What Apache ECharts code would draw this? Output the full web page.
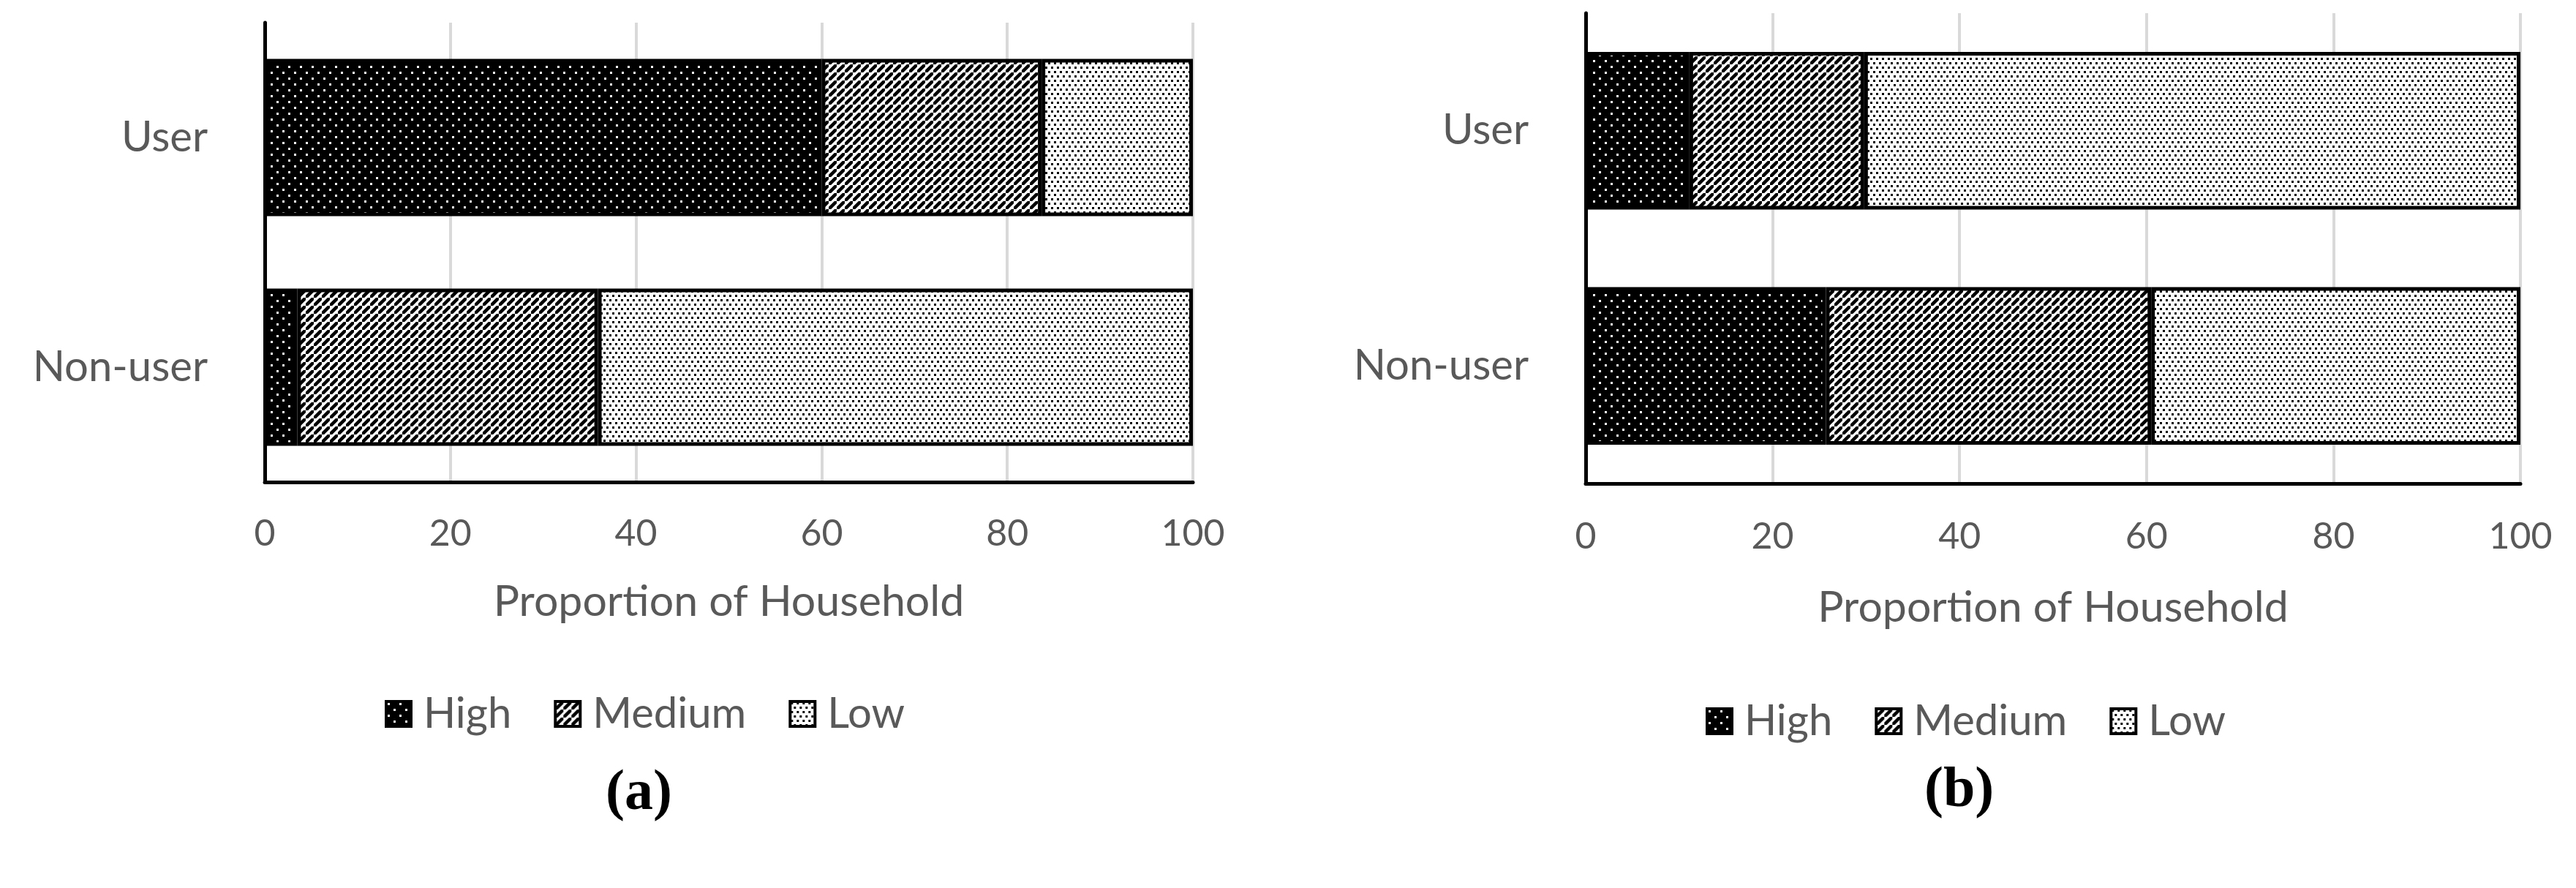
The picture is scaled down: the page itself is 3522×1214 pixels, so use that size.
<!DOCTYPE html>
<html>
<head>
<meta charset="utf-8">
<script src="https://cdn.jsdelivr.net/npm/echarts@6/dist/echarts.min.js"></script>
<style>
  html, body { margin: 0; padding: 0; background: #ffffff; }
  #chart { width: 3522px; height: 1214px; }
</style>
</head>
<body>
<div id="chart"></div>
<script>
// ---------------- DATA ----------------
const categories = ['Non-user', 'User'];          // bottom -> top
const seriesNames = ['High', 'Medium', 'Low'];
const axisTitle = 'Proportion of Household';

// Panel (a)
const aHigh   = [3.5, 60.0];
const aMedium = [32.4, 23.7];
const aLow    = [64.1, 16.3];

// Panel (b)
const bHigh   = [25.7, 11.1];
const bMedium = [34.8, 18.7];
const bLow    = [39.5, 70.2];

const panelLabels = ['a', 'b'];

// ---------------- PATTERNS ----------------
function makeCanvas(w, h) {
  const c = document.createElement('canvas');
  c.width = w; c.height = h;
  return c;
}
function highPattern() {
  const c = makeCanvas(16, 16);
  const g = c.getContext('2d');
  g.fillStyle = '#000'; g.fillRect(0, 0, 16, 16);
  g.fillStyle = '#fff';
  g.fillRect(2, 2, 3, 3);
  g.fillRect(10, 10, 3, 3);
  return c;
}
function mediumPattern() {
  const s = 11;
  const c = makeCanvas(s, s);
  const g = c.getContext('2d');
  g.fillStyle = '#fff'; g.fillRect(0, 0, s, s);
  g.strokeStyle = '#000'; g.lineWidth = 4.5;
  g.beginPath();
  g.moveTo(-s, s * 2); g.lineTo(s * 2, -s);
  g.moveTo(-s * 2, s); g.lineTo(s, -s * 2);
  g.moveTo(0, s * 3); g.lineTo(s * 3, 0);
  g.stroke();
  return c;
}
function lowPattern() {
  const c = makeCanvas(8, 12);
  const g = c.getContext('2d');
  g.fillStyle = '#fff'; g.fillRect(0, 0, 8, 12);
  g.fillStyle = '#000';
  g.fillRect(1, 1, 3, 3);
  g.fillRect(5, 7, 3, 3);
  return c;
}
const patterns = {
  High:   { image: highPattern(),   repeat: 'repeat' },
  Medium: { image: mediumPattern(), repeat: 'repeat' },
  Low:    { image: lowPattern(),    repeat: 'repeat' }
};

// ---------------- OPTION ----------------
const FONT = 'Lato';
const TXT = '#595959';

function xAxisCfg(gridIndex, labelMargin, nameGap) {
  return {
    gridIndex: gridIndex,
    type: 'value',
    min: 0, max: 100, interval: 20,
    axisLine: { show: true, onZero: false, lineStyle: { color: '#000', width: 5 } },
    axisTick: { show: false },
    splitLine: { show: true, lineStyle: { color: '#d9d9d9', width: 4 } },
    axisLabel: { fontFamily: FONT, fontSize: 50, color: TXT, margin: labelMargin },
    name: axisTitle,
    nameLocation: 'middle',
    nameGap: nameGap,
    nameTextStyle: { fontFamily: FONT, fontSize: 59, color: TXT }
  };
}
function yAxisCfg(gridIndex) {
  return {
    gridIndex: gridIndex,
    type: 'category',
    data: categories,
    axisLine: { show: true, lineStyle: { color: '#000', width: 5 } },
    axisTick: { show: false },
    splitLine: { show: false },
    axisLabel: { fontFamily: FONT, fontSize: 58, color: TXT, margin: 78 }
  };
}
function seriesFor(gridIndex, arrays, gap) {
  return seriesNames.map(function (name, i) {
    return {
      name: name,
      type: 'bar',
      stack: 'panel' + gridIndex,
      xAxisIndex: gridIndex,
      yAxisIndex: gridIndex,
      barCategoryGap: gap,
      data: arrays[i],
      itemStyle: { color: patterns[name], borderColor: '#000', borderWidth: 5 },
      emphasis: { disabled: true }
    };
  });
}
function legendCfg(left, top) {
  return {
    left: left, top: top,
    orient: 'horizontal',
    data: seriesNames,
    icon: 'rect',
    itemWidth: 34, itemHeight: 34,
    itemGap: 58,
    selectedMode: false,
    itemStyle: { borderColor: '#000', borderWidth: 4 },
    textStyle: { fontFamily: FONT, fontSize: 58, color: TXT, padding: [0, 0, 0, 12] }
  };
}
function panelTitle(letter, left, top) {
  return {
    text: '{p|(}{b|' + letter + '}{p|)}',
    left: left, top: top,
    textStyle: {
      rich: {
        p: { fontFamily: 'Liberation Serif', fontSize: 78, color: '#000' },
        b: { fontFamily: 'Liberation Serif', fontSize: 78, fontWeight: 'bold', color: '#000' }
      }
    }
  };
}

const option = {
  backgroundColor: '#ffffff',
  animation: false,
  title: [
    panelTitle(panelLabels[0], 823, 1042),
    panelTitle(panelLabels[1], 2626, 1038)
  ],
  legend: [
    legendCfg(521, 942),
    legendCfg(2327, 952)
  ],
  grid: [
    { left: 362, top: 31, width: 1269, height: 628 },
    { left: 2168, top: 18, width: 1278, height: 643 }
  ],
  xAxis: [
    xAxisCfg(0, 46, 134),
    xAxisCfg(1, 48, 140)
  ],
  yAxis: [
    yAxisCfg(0),
    yAxisCfg(1)
  ],
  series: [].concat(
    seriesFor(0, [aHigh, aMedium, aLow], '31.5%'),
    seriesFor(1, [bHigh, bMedium, bLow], '33%')
  )
};

const chart = echarts.init(document.getElementById('chart'), null, { renderer: 'canvas' });
chart.setOption(option);
</script>
</body>
</html>
